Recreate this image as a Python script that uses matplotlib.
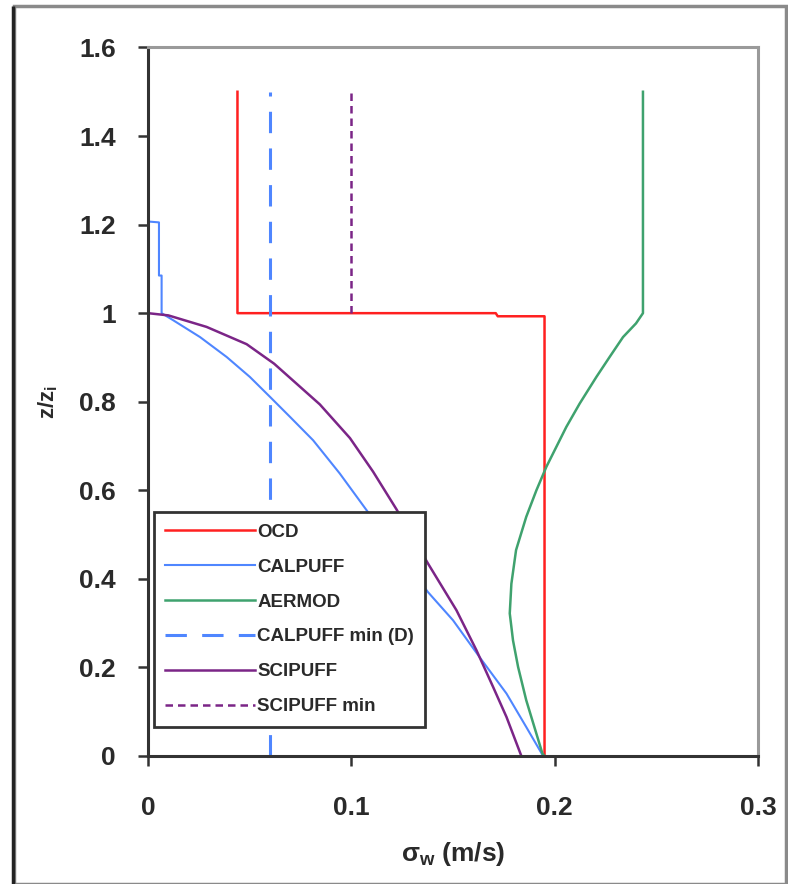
import matplotlib
matplotlib.use("Agg")
from matplotlib import pyplot as plt
from matplotlib.patches import Rectangle

# --- data (sigma_w in m/s, z/zi) ---
ocd_sw = [0.044, 0.044, 0.171, 0.172, 0.195, 0.195]
ocd_z = [1.5, 1.0, 1.0, 0.993, 0.993, 0.0]

calpuff_sw = [0.0, 0.0054, 0.0054, 0.0067, 0.0067, 0.0124, 0.0256, 0.0387, 0.0501,
              0.060, 0.0698, 0.0812, 0.0943, 0.1075, 0.1377, 0.150, 0.163, 0.1763,
              0.186, 0.1943]
calpuff_z = [1.207, 1.205, 1.085, 1.085, 1.0, 0.984, 0.946, 0.901, 0.856,
             0.811, 0.766, 0.713, 0.638, 0.555, 0.370, 0.3065, 0.2236, 0.141,
             0.0655, 0.0]

aermod_sw = [0.2434, 0.2434, 0.2400, 0.2336, 0.227, 0.2205, 0.2123, 0.2057, 0.1959,
             0.191, 0.186, 0.181, 0.1787, 0.1779, 0.1795, 0.182, 0.186, 0.194, 0.195]
aermod_z = [1.5, 1.0, 0.977, 0.946, 0.901, 0.856, 0.796, 0.743, 0.653,
            0.600, 0.540, 0.465, 0.389, 0.322, 0.261, 0.201, 0.126, 0.005, 0.0]

calpuff_min_sw = [0.06, 0.06]
calpuff_min_z = [0.0, 1.5]

scipuff_sw = [0.0, 0.0, 0.010, 0.0288, 0.0485, 0.062, 0.0845, 0.0993,
              0.1107, 0.1222, 0.1377, 0.1517, 0.1615, 0.1697, 0.1763, 0.1836]
scipuff_z = [1.5, 1.0, 0.995, 0.969, 0.930, 0.886, 0.794, 0.718,
             0.642, 0.557, 0.4346, 0.329, 0.239, 0.156, 0.088, 0.0]

scipuff_min_sw = [0.1, 0.1]
scipuff_min_z = [1.0, 1.5]

x_ticks = [0, 0.1, 0.2, 0.3]
x_ticklabels = ["0", "0.1", "0.2", "0.3"]
y_ticks = [0, 0.2, 0.4, 0.6, 0.8, 1.0, 1.2, 1.4, 1.6]
y_ticklabels = ["0", "0.2", "0.4", "0.6", "0.8", "1", "1.2", "1.4", "1.6"]

plt.rcParams["font.family"] = ["Liberation Sans", "DejaVu Sans"]
plt.rcParams["mathtext.fontset"] = "custom"
plt.rcParams["mathtext.rm"] = "Liberation Sans"
plt.rcParams["mathtext.it"] = "Liberation Sans:bold"
plt.rcParams["mathtext.bf"] = "Liberation Sans:bold"

txt = "#2a2a2a"

fig = plt.figure(figsize=(7.88, 8.84), dpi=100)
fig.patches.append(Rectangle((0.0175, 0.0), 0.98, 0.993, transform=fig.transFigure,
                             fill=False, edgecolor="#8a8a8a", linewidth=2.5))
fig.patches.append(Rectangle((0.0165, 0.0), 0.0, 0.993, transform=fig.transFigure,
                             fill=False, edgecolor="#222222", linewidth=2.5))

ax = fig.add_axes([0.1878, 0.1448, 0.7742, 0.8015])

ax.plot(ocd_sw, ocd_z, color="#ff2020", linewidth=1.8, label="OCD")
ax.plot(calpuff_sw, calpuff_z, color="#4f86ff", linewidth=1.5, label="CALPUFF")
ax.plot(aermod_sw, aermod_z, color="#3fa26e", linewidth=1.8, label="AERMOD")
ax.plot(calpuff_min_sw, calpuff_min_z, color="#4f86ff", linewidth=2.2,
        dashes=(7, 5), label="CALPUFF min (D)")
ax.plot(scipuff_sw, scipuff_z, color="#7b2587", linewidth=1.8, label="SCIPUFF")
ax.plot(scipuff_min_sw, scipuff_min_z, color="#7b2587", linewidth=1.8,
        dashes=(3, 2), label="SCIPUFF min")

ax.set_xlim(0, 0.3)
ax.set_ylim(0, 1.6)
ax.set_xticks(x_ticks)
ax.set_xticklabels(x_ticklabels)
ax.set_yticks(y_ticks)
ax.set_yticklabels(y_ticklabels)
ax.tick_params(axis="both", direction="out", length=7, width=1.8, color="#333333",
               labelsize=19, labelcolor=txt)
ax.tick_params(axis="x", pad=22)
ax.tick_params(axis="y", pad=16)
for lab in ax.get_xticklabels() + ax.get_yticklabels():
    lab.set_fontweight("bold")

for side in ("left", "bottom"):
    ax.spines[side].set_color("#333333")
    ax.spines[side].set_linewidth(2.2)
for side in ("top", "right"):
    ax.spines[side].set_color("#9a9a9a")
    ax.spines[side].set_linewidth(2.2)

ax.set_xlabel(r"$\mathbf{\sigma_w}$ (m/s)", fontsize=19, fontweight="bold",
              color=txt, labelpad=14)
ax.set_ylabel(r"z/z$_\mathbf{i}$", fontsize=16, fontweight="bold", color=txt,
              labelpad=14)

leg = ax.legend(loc="upper left", bbox_to_anchor=(0.010, 0.344), frameon=True,
                fancybox=False, edgecolor="#333333", framealpha=1,
                prop={"size": 13.5, "weight": "bold"}, handlelength=4.8,
                handletextpad=0.1, labelspacing=0.95, borderpad=0.6,
                borderaxespad=0)
leg.get_frame().set_linewidth(2.0)
for t in leg.get_texts():
    t.set_color(txt)

fig.savefig("out.png", dpi=100)
